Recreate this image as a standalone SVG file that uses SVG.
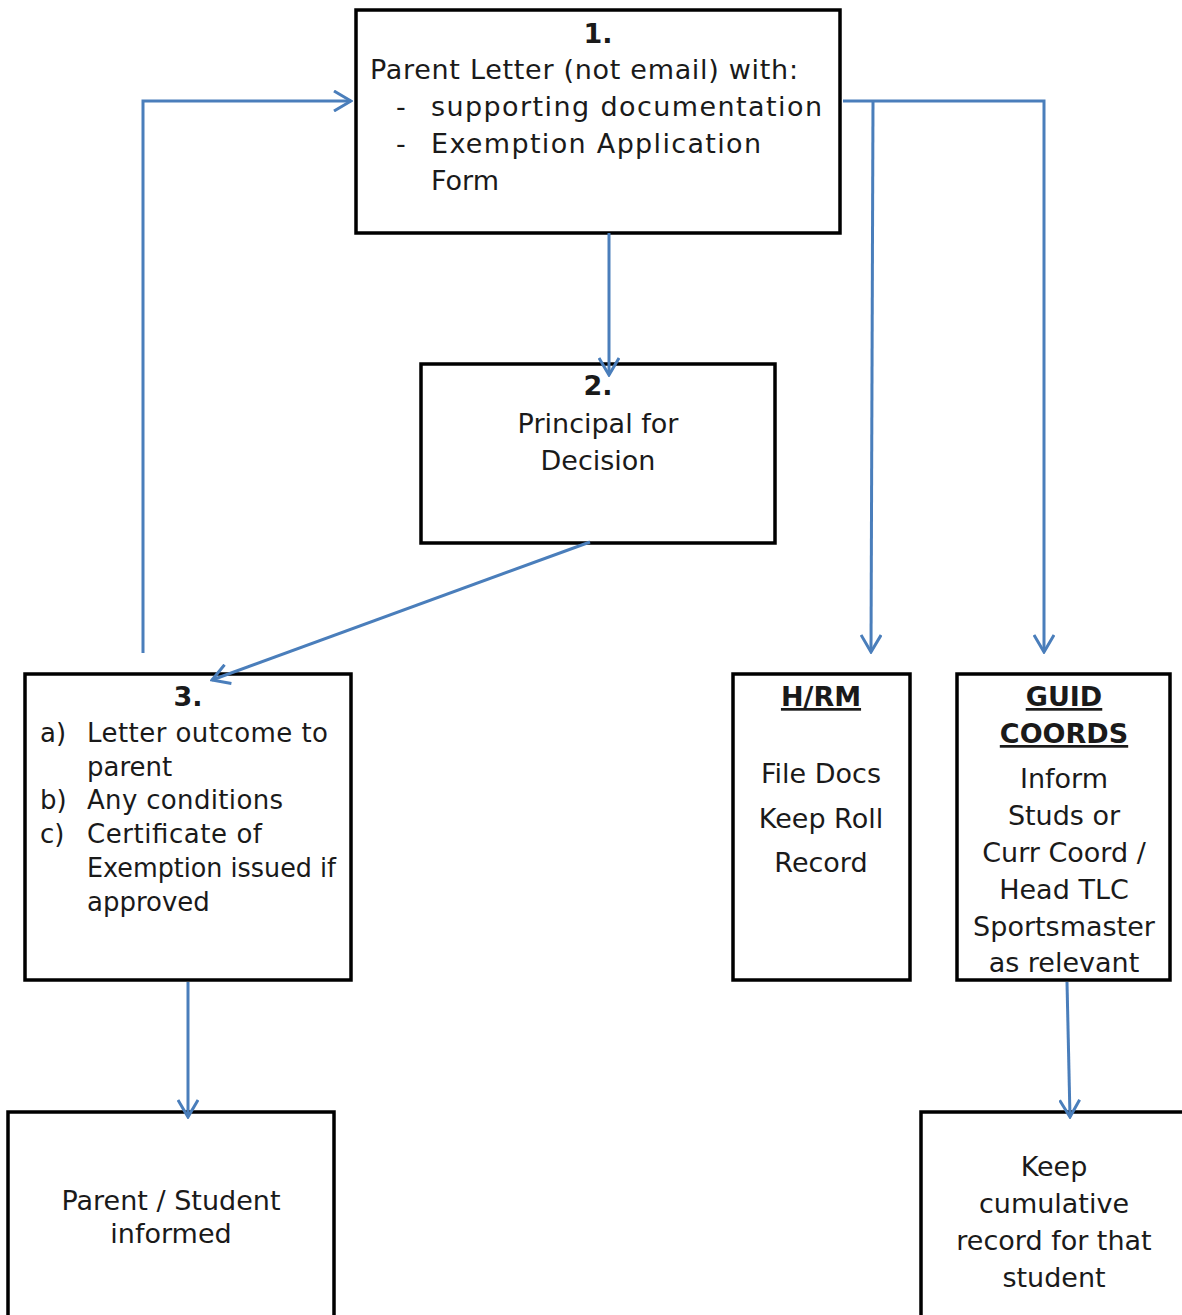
<svg xmlns="http://www.w3.org/2000/svg" width="1182" height="1315" viewBox="0 0 1182 1315">
<defs>
<style>
.box{fill:#fff;stroke:#000;stroke-width:3.5}
.t{font-family:"DejaVu Sans","Liberation Sans",sans-serif;font-size:27px;fill:#1a1a1a}
.s{font-size:26px}
.c{text-anchor:middle}
.b{font-weight:bold}
.u{text-decoration:underline}
.con{fill:none;stroke:#4a7ebb;stroke-width:3}
</style>
<marker id="ah" viewBox="0 0 22 22" refX="20" refY="11" markerWidth="22" markerHeight="22" markerUnits="userSpaceOnUse" orient="auto">
<path d="M3,1 L20,11 L3,21" fill="none" stroke="#4a7ebb" stroke-width="3"/>
</marker>
</defs>
<rect width="1182" height="1315" fill="#fff"/>
<g id="node1">
<rect class="box" x="356" y="10" width="484" height="223"/>
<text class="t c b" x="598" y="43">1.</text>
<text class="t" x="370" y="79" textLength="428">Parent Letter (not email) with:</text>
<text class="t" x="396" y="116">-</text>
<text class="t" x="431" y="116" textLength="391">supporting documentation</text>
<text class="t" x="396" y="153">-</text>
<text class="t" x="431" y="153" textLength="330">Exemption Application</text>
<text class="t" x="431" y="190">Form</text>
</g>
<g id="node2">
<rect class="box" x="421" y="364" width="354" height="179"/>
<text class="t c b" x="598" y="395">2.</text>
<text class="t c" x="598" y="433">Principal for</text>
<text class="t c" x="598" y="470">Decision</text>
</g>
<g id="node3">
<rect class="box" x="25" y="674" width="326" height="306"/>
<text class="t c b" x="188" y="706">3.</text>
<text class="t s" x="40" y="742">a)</text>
<text class="t s" x="87" y="742" textLength="241">Letter outcome to</text>
<text class="t s" x="87" y="776">parent</text>
<text class="t s" x="40" y="809">b)</text>
<text class="t s" x="87" y="809" textLength="196">Any conditions</text>
<text class="t s" x="40" y="843">c)</text>
<text class="t s" x="87" y="843" textLength="175">Certificate of</text>
<text class="t s" x="87" y="877" textLength="249" lengthAdjust="spacingAndGlyphs">Exemption issued if</text>
<text class="t s" x="87" y="911">approved</text>
</g>
<g id="node-hrm">
<rect class="box" x="733" y="674" width="177" height="306"/>
<text class="t c b u" x="821" y="706">H/RM</text>
<text class="t c" x="821" y="783">File Docs</text>
<text class="t c" x="821" y="828">Keep Roll</text>
<text class="t c" x="821" y="872">Record</text>
</g>
<g id="node-guid">
<rect class="box" x="957" y="674" width="213" height="306"/>
<text class="t c b u" x="1064" y="706">GUID</text>
<text class="t c b u" x="1064" y="743">COORDS</text>
<text class="t c" x="1064" y="788">Inform</text>
<text class="t c" x="1064" y="825">Studs or</text>
<text class="t c" x="1064" y="862">Curr Coord /</text>
<text class="t c" x="1064" y="899">Head TLC</text>
<text class="t c" x="1064" y="936">Sportsmaster</text>
<text class="t c" x="1064" y="972">as relevant</text>
</g>
<g id="node-parent">
<rect class="box" x="8" y="1112" width="326" height="220"/>
<text class="t c" x="171" y="1210">Parent / Student</text>
<text class="t c" x="171" y="1243">informed</text>
</g>
<g id="node-keep">
<rect class="box" x="921" y="1112" width="280" height="220"/>
<text class="t c" x="1054" y="1176">Keep</text>
<text class="t c" x="1054" y="1213">cumulative</text>
<text class="t c" x="1054" y="1250">record for that</text>
<text class="t c" x="1054" y="1287">student</text>
</g>
<g id="connectors">
<path class="con" d="M143,653 V101 H351" marker-end="url(#ah)"/>
<path class="con" d="M609,233 V375" marker-end="url(#ah)"/>
<path class="con" d="M590,542 L212,680" marker-end="url(#ah)"/>
<path class="con" d="M843,101 H1044 V652" marker-end="url(#ah)"/>
<path class="con" d="M873,101 L871,652" marker-end="url(#ah)"/>
<path class="con" d="M188,982 V1117" marker-end="url(#ah)"/>
<path class="con" d="M1067,982 L1070,1117" marker-end="url(#ah)"/>
</g>
</svg>
